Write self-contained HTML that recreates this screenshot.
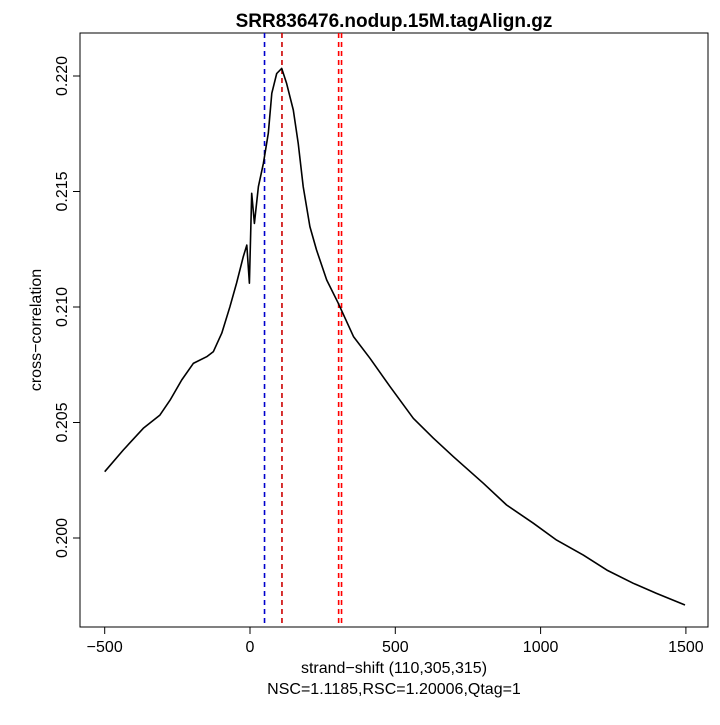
<!DOCTYPE html>
<html><head><meta charset="utf-8"><style>
body{margin:0;background:#fff}
text{font-family:"Liberation Sans",sans-serif}
</style></head><body>
<svg id="chart" width="720" height="720" xmlns="http://www.w3.org/2000/svg">
<rect x="0" y="0" width="720" height="720" fill="#fff"/>
<text x="394" y="27" text-anchor="middle" font-size="19" font-weight="bold">SRR836476.nodup.15M.tagAlign.gz</text>
<rect x="80" y="33" width="628" height="594" fill="none" stroke="#000" stroke-width="1"/>
<g id="xaxis"></g>
<g id="yaxis"></g>
<g id="vlines"></g>
<path id="curve" fill="none" stroke="#000" stroke-width="1.6" stroke-linejoin="round"/>
<text x="394" y="673" text-anchor="middle" font-size="16">strand−shift (110,305,315)</text>
<text x="394" y="694" text-anchor="middle" font-size="16">NSC=1.1185,RSC=1.20006,Qtag=1</text>
<text transform="translate(41,330) rotate(-90)" text-anchor="middle" font-size="16">cross−correlation</text>
</svg>
<script>
const shifts=[-500,-436,-367,-310,-275,-235,-195,-149,-126,-97,-69,-46,-23,-11,-2,6,15,29,46,63,75,92,109,126,149,166,183,206,229,264,304,356,413,482,562,631,700,803,883,975,1055,1147,1228,1319,1399,1497];
const corr=[0.20287,0.20381,0.20475,0.20532,0.20597,0.20684,0.20756,0.20785,0.20807,0.20887,0.21001,0.21104,0.21218,0.21268,0.21103,0.21492,0.21362,0.21521,0.21622,0.21752,0.21925,0.22011,0.22033,0.21968,0.21853,0.21709,0.21521,0.21348,0.21247,0.21117,0.21016,0.20872,0.20778,0.20655,0.20518,0.20432,0.20352,0.20237,0.20143,0.20064,0.19991,0.19926,0.19861,0.19804,0.19760,0.19710];
const xTicks=[-500,0,500,1000,1500];
const yTicks=[0.200,0.205,0.210,0.215,0.220];
const yTickLabels=["0.200","0.205","0.210","0.215","0.220"];
const vLineShifts=[50,110,305,315];
const vLineColors=["#0000cc","#cc0000","#ff0000","#ff0000"];
const NS="http://www.w3.org/2000/svg";
const X=v=>250+(v)*0.2906;
const Y=v=>538-(v-0.200)*23100;
function mk(tag,attrs,parent){const e=document.createElementNS(NS,tag);for(const k in attrs)e.setAttribute(k,attrs[k]);parent.appendChild(e);return e;}
const xa=document.getElementById('xaxis');
mk('line',{x1:X(xTicks[0]),x2:X(xTicks[xTicks.length-1]),y1:627,y2:627,stroke:'#000'},xa);
xTicks.forEach(t=>{
 const l=mk('line',{x1:X(t),x2:X(t),y1:627,y2:634,stroke:'#000'},xa);
 
 
 const tx=mk('text',{x:X(t),y:652,'text-anchor':'middle','font-size':16},xa);
 tx.textContent=t<0?'−'+Math.abs(t):String(t);
 
 
});
const ya=document.getElementById('yaxis');
mk('line',{x1:80,x2:80,y1:Y(yTicks[0]),y2:Y(yTicks[yTicks.length-1]),stroke:'#000'},ya);
yTicks.forEach((t,i)=>{
 const l=mk('line',{x1:73,x2:80,y1:Y(t),y2:Y(t),stroke:'#000'},ya);
 
 
 const tx=mk('text',{transform:`translate(67,${Y(t)}) rotate(-90)`,'text-anchor':'middle','font-size':16},ya);
 tx.textContent=yTickLabels[i];
 
 
});
const vl=document.getElementById('vlines');
vLineShifts.forEach((s,i)=>{
 const l=mk('line',{x1:X(s),x2:X(s),y1:33,y2:627,stroke:vLineColors[i],'stroke-width':1.6,'stroke-dasharray':'5,4'},vl);
 
 
});
document.getElementById('curve').setAttribute('d',shifts.map((s,i)=>(i?'L':'M')+X(s).toFixed(1)+','+Y(corr[i]).toFixed(1)).join(''));
</script>
</body></html>
